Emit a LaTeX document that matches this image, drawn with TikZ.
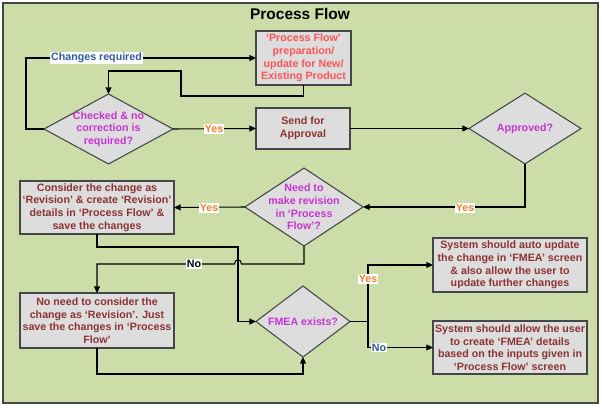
\documentclass[tikz,border=0pt]{standalone}
\usepackage{fontspec}
\setmainfont{Liberation Sans}
\usetikzlibrary{arrows.meta,shapes.geometric}
\definecolor{bg}{RGB}{204,221,170}
\definecolor{boxfill}{RGB}{221,221,221}
\definecolor{boxline}{RGB}{70,70,70}
\definecolor{redtxt}{RGB}{250,85,85}
\definecolor{darkred}{RGB}{140,50,50}
\definecolor{magtxt}{RGB}{200,50,210}
\definecolor{orangetxt}{RGB}{235,130,50}
\definecolor{bluetxt}{RGB}{50,90,160}
\begin{document}
\begin{tikzpicture}[x=0.75pt,y=-0.75pt,
  every node/.style={font=\bfseries\fontsize{8pt}{9.45pt}\selectfont},
  procbox/.style={draw=boxline,fill=boxfill,line width=0.9pt,inner sep=0pt,outer sep=0pt,align=center,text=darkred},
  dshape/.style={diamond,draw=boxline,fill=boxfill,line width=0.8pt,inner sep=0pt,outer sep=0pt},
  dtext/.style={align=center,text=magtxt,inner sep=0pt},
  conn/.style={line width=0.8pt,-{Triangle[length=5pt,width=4.5pt]}},
  plain/.style={line width=0.8pt},
  lab/.style={fill=white,inner sep=0.6pt}
]
\useasboundingbox (0,0) rectangle (602,407);
\fill[white] (0,0) rectangle (602,407);
\draw[fill=bg,draw=boxline,line width=0.9pt] (3,3) rectangle (598,403);

\node[font=\bfseries\fontsize{11.6pt}{14pt}\selectfont] (title) at (300,14) {Process Flow};

% boxes
\node[procbox,text=redtxt,minimum width=71.25pt,minimum height=40.5pt] (b1) at (303.5,58)
  {‘Process Flow’\\preparation/\\update for New/\\Existing Product};
\node[procbox,minimum width=70.5pt,minimum height=30.75pt] (b3) at (303,128.5)
  {Send for\\Approval};
\node[procbox,minimum width=115.5pt,minimum height=39.75pt] (b6) at (97,207.5)
  {Consider the change as\\‘Revision’ \& create ‘Revision’\\details in ‘Process Flow’ \&\\save the changes};
\node[procbox,minimum width=115.5pt,minimum height=41.25pt] (b7) at (97,320.5)
  {No need to consider the\\change as ‘Revision’. Just\\save the changes in ‘Process\\Flow’};
\node[procbox,minimum width=115.5pt,minimum height=40.5pt] (b9) at (510,265)
  {System should auto update\\the change in ‘FMEA’ screen\\\& also allow the user to\\update further changes};
\node[procbox,minimum width=115.5pt,minimum height=39.75pt] (b10) at (510,347.5)
  {System should allow the user\\to create ‘FMEA’ details\\based on the inputs given in\\‘Process Flow’ screen};

% diamonds
\node[dshape,minimum width=96.75pt,minimum height=52.5pt] (d1) at (108.5,129) {};
\node[dtext] (t1) at (d1.center) {Checked \& no\\correction is\\required?};
\node[dshape,minimum width=84pt,minimum height=53pt] (d2) at (525,128.5) {};
\node[dtext] (t2) at (d2.center) {Approved?};
\node[dshape,minimum width=88.5pt,minimum height=58.5pt] (d3) at (304,207) {};
\node[dtext] (t3) at (d3.center) {Need to\\make revision\\in ‘Process\\Flow’?};
\node[dshape,minimum width=70.5pt,minimum height=53.25pt] (d4) at (303,321.5) {};
\node[dtext] (t4) at (d4.center) {FMEA exists?};

\coordinate (fj) at (368,321.5);

% connectors
\draw[conn] (d1.west) -- ++(-18,0) |- (b1.west);
\draw[conn] (b1.south) |- (181,96) -- (181,71) -| (d1.north);
\draw[conn] (d1.east) -- (b3.west);
\draw[conn] (b3.east) -- (d2.west);
\draw[conn] (d2.south) |- (d3.east);
\draw[conn] (d3.west) -- (b6.east);
\draw[conn] (d3.south) |- (241.5,264) .. controls (241.5,258.5) and (234.5,258.5) .. (234.5,264) -| (b7.north);
\draw[conn] (b6.south) |- (238,247) |- (d4.west);
\draw[conn] (b7.south) |- (200,374) -| (d4.south);
\draw[plain] (d4.east) -- (fj);
\draw[conn] (fj) |- (b9.west);
\draw[conn] (fj) |- (b10.west);

% labels
\node[lab,text=bluetxt] (lchg) at (96.5,58) {Changes required};
\node[lab,text=orangetxt] (ly1) at (214,129) {Yes};
\node[lab,text=orangetxt] (ly2) at (465,208) {Yes};
\node[lab,text=orangetxt] (ly3) at (209,208) {Yes};
\node[lab,text=black] (ln1) at (194,264) {No};
\node[lab,text=orangetxt] (ly4) at (368,279) {Yes};
\node[lab,text=bluetxt] (ln2) at (379,347.5) {No};
\end{tikzpicture}
\end{document}
